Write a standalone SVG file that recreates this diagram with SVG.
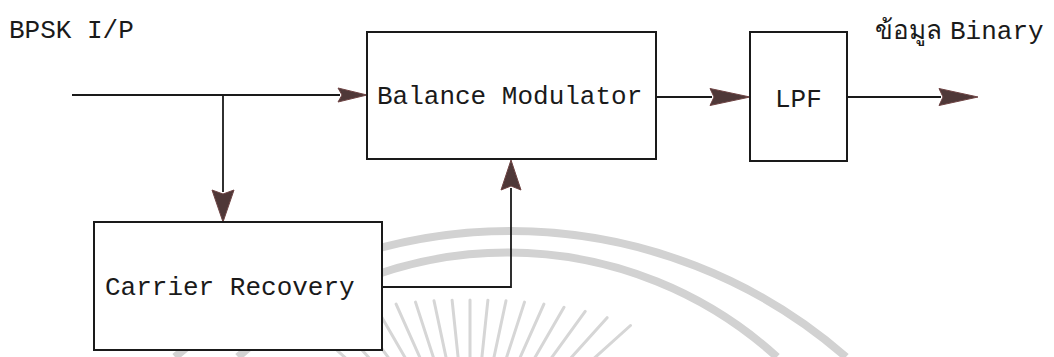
<svg xmlns="http://www.w3.org/2000/svg" width="1054" height="357" viewBox="0 0 1054 357">
  <style>
    .box { fill: #ffffff; stroke: #1a1a1a; stroke-width: 2; }
    .wire { fill: none; stroke: #1a1a1a; stroke-width: 1.8; }
    .head { fill: #4f3838; stroke: #6e4444; stroke-width: 1; }
    .lbl { font-family: "Liberation Mono", "DejaVu Sans Mono", monospace; font-size: 26px; fill: #1a1a1a; }
    .wm { fill: none; stroke: #d2d2d2; stroke-width: 8; }
    .ray { fill: none; stroke: #d6d6d6; stroke-width: 3; stroke-linecap: round; }
  </style>
  <rect width="1054" height="357" fill="#ffffff"/>

  <g id="watermark">
    <path class="wm" d="M175,357 A510,510 0 0 1 846,357"/>
    <path class="wm" d="M238,357 A400,400 0 0 1 777,357"/>
    <path class="ray" d="M309.5,325.5 L395.7,403.1 M332.9,317.7 L403.1,395.7 M354.8,311.4 L411.2,389.1 M376,307.2 L420,383.4 M396.1,304.1 L429.3,378.6 M415.5,302.1 L439.1,374.9 M434,300.8 L449.2,372.2 M452.1,300.2 L459.5,370.5 M470,300 L470,370 M487.9,300.2 L480.5,370.5 M506,300.8 L490.8,372.2 M524.5,302.1 L500.9,374.9 M543.9,304.1 L510.7,378.6 M564,307.2 L520,383.4 M585.2,311.4 L528.8,389.1 M607.1,317.7 L536.9,395.7 M630.5,325.5 L544.3,403.1"/>
  </g>

  <g id="connectors">
    <path class="wire" d="M72,95 L340,95"/>
    <polygon class="head" points="338,88 367,95 338,102 342,95"/>
    <path class="wire" d="M223,95 L223,192"/>
    <polygon class="head" points="212,190 223,222 234,190 223,194"/>
    <path class="wire" d="M656,97 L712,97"/>
    <polygon class="head" points="710,88.5 750,97 710,105.5 714,97"/>
    <path class="wire" d="M847,97 L941,97"/>
    <polygon class="head" points="939,88.5 978,97 939,105.5 943,97"/>
    <path class="wire" d="M382,287 L511,287 L511,188"/>
    <polygon class="head" points="501,190 511,160 521,190 511,186"/>
  </g>

  <g id="label-input">
    <text class="lbl" x="9" y="38">BPSK I/P</text>
  </g>

  <g id="node-balance-modulator">
    <rect class="box" x="367" y="32" width="289" height="127"/>
    <text class="lbl" x="377" y="104">Balance Modulator</text>
  </g>

  <g id="node-lpf">
    <rect class="box" x="750" y="32" width="97" height="129"/>
    <text class="lbl" x="775" y="107">LPF</text>
  </g>

  <g id="node-carrier-recovery">
    <rect class="box" x="94" y="222" width="288" height="128"/>
    <text class="lbl" x="105" y="295">Carrier Recovery</text>
  </g>

  <g id="label-output">
    <text class="lbl" x="875" y="39">ข้อมูล<tspan x="950">Binary</tspan></text>
  </g>
</svg>
